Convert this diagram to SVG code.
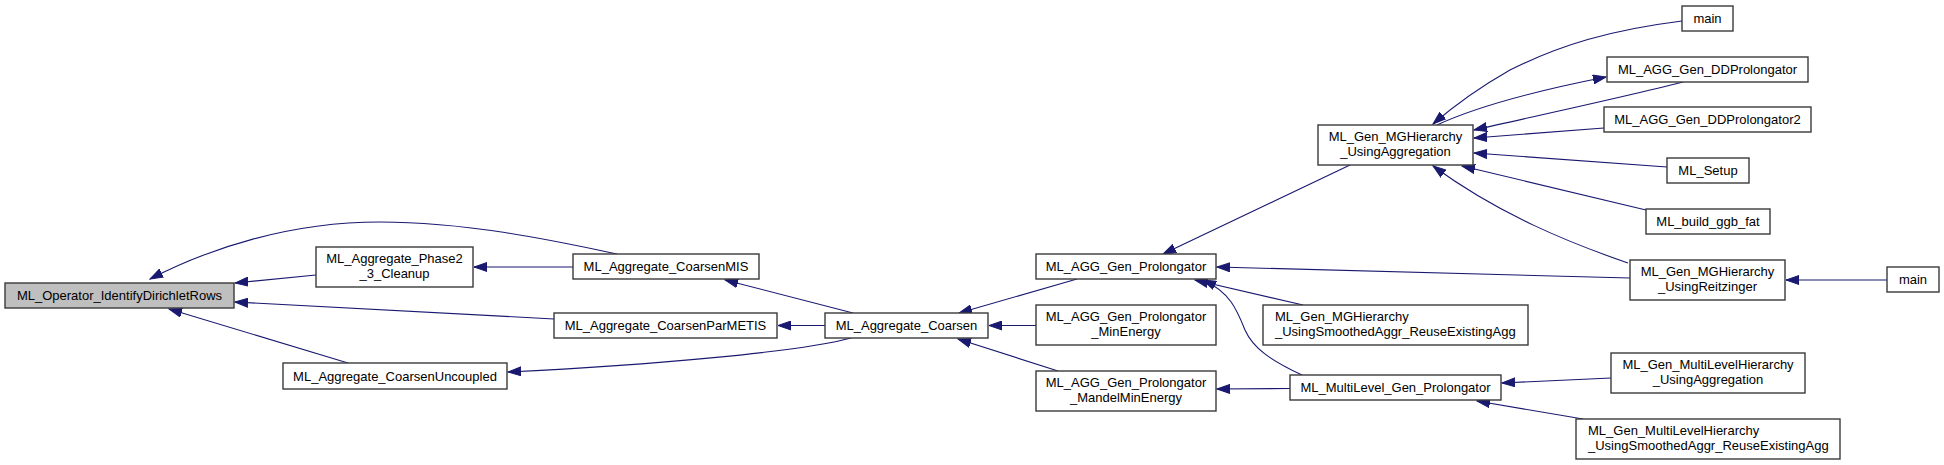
<svg xmlns="http://www.w3.org/2000/svg" width="1944" height="465" viewBox="0 0 1944 465">
<style>
.n rect{fill:#ffffff;stroke:#3a3a3a;stroke-width:1.4}
.n.root rect{fill:#bfbfbf}
text{font-family:"Liberation Sans",Helvetica,Arial,sans-serif;font-size:13px;fill:#000000}
.c{text-anchor:middle}
.l{text-anchor:start}
#edges path{fill:none;stroke:#191970;stroke-width:1.1;marker-end:url(#arr)}
</style>
<defs>
<marker id="arr" markerUnits="userSpaceOnUse" markerWidth="14" markerHeight="10" refX="13" refY="5" orient="auto" viewBox="0 0 14 10">
<path d="M0,0.5 L13,5 L0,9.5 z" fill="#191970" stroke="#191970" stroke-width="1"/>
</marker>
</defs>
<rect x="0" y="0" width="1944" height="465" fill="#ffffff"/>
<g id="edges">
<path d="M617,254 C560,242 470,222 380,222 C290,222 210,248 150,279"/>
<path d="M316,275 L235,283"/>
<path d="M554,319 L235,302"/>
<path d="M348,363 L169,309"/>
<path d="M573,267 L474,267"/>
<path d="M853,313 L725,280"/>
<path d="M825,325.5 L778,325.5"/>
<path d="M851,338 C800,352 650,365 508,372"/>
<path d="M1077,279 L959,313"/>
<path d="M1036,325.5 L989,325.5"/>
<path d="M1058,371 L958,339"/>
<path d="M1350,165 L1163,254"/>
<path d="M1630,278 L1217,267"/>
<path d="M1303,305 L1195,280"/>
<path d="M1302,375 C1270,360 1253,348 1245,330 C1237,310 1230,292 1203,280"/>
<path d="M1290,388.5 L1217,389"/>
<path d="M1611,378 L1502,383"/>
<path d="M1583,419 L1477,401"/>
<path d="M1682,21 C1610,30 1560,45 1510,70 C1480,87 1455,105 1433,124"/>
<path d="M1437,125 C1480,105 1540,90 1606,77"/>
<path d="M1683,82 C1620,98 1540,115 1474,130"/>
<path d="M1604,128 L1474,138"/>
<path d="M1667,167 L1474,153"/>
<path d="M1646,210 L1462,166"/>
<path d="M1628,263 C1570,243 1500,215 1433,166"/>
<path d="M1887,280 L1786,280"/>
</g>
<g id="n_operator" class="n root"><rect x="5" y="283" width="229" height="25"/><text class="c" x="119.5" y="300">ML_Operator_IdentifyDirichletRows</text></g>
<g id="n_phase2" class="n"><rect x="316" y="247" width="157" height="40"/><text class="c" x="394.5" y="262.5">ML_Aggregate_Phase2</text><text class="c" x="394.5" y="277.5">_3_Cleanup</text></g>
<g id="n_coarsenmis" class="n"><rect x="573" y="254" width="186" height="25"/><text class="c" x="666" y="271">ML_Aggregate_CoarsenMIS</text></g>
<g id="n_parmetis" class="n"><rect x="554" y="313" width="223" height="25"/><text class="c" x="665.5" y="330">ML_Aggregate_CoarsenParMETIS</text></g>
<g id="n_uncoupled" class="n"><rect x="283" y="363" width="224" height="26"/><text class="c" x="395" y="380.5">ML_Aggregate_CoarsenUncoupled</text></g>
<g id="n_coarsen" class="n"><rect x="825" y="313" width="163" height="25"/><text class="c" x="906.5" y="330">ML_Aggregate_Coarsen</text></g>
<g id="n_genprol" class="n"><rect x="1036" y="254" width="180" height="25"/><text class="c" x="1126" y="271">ML_AGG_Gen_Prolongator</text></g>
<g id="n_minenergy" class="n"><rect x="1036" y="305" width="180" height="40"/><text class="c" x="1126" y="320.5">ML_AGG_Gen_Prolongator</text><text class="c" x="1126" y="335.5">_MinEnergy</text></g>
<g id="n_mandel" class="n"><rect x="1036" y="371" width="180" height="40"/><text class="c" x="1126" y="386.5">ML_AGG_Gen_Prolongator</text><text class="c" x="1126" y="401.5">_MandelMinEnergy</text></g>
<g id="n_mgh_agg" class="n"><rect x="1318" y="125" width="155" height="40"/><text class="c" x="1395.5" y="140.5">ML_Gen_MGHierarchy</text><text class="c" x="1395.5" y="155.5">_UsingAggregation</text></g>
<g id="n_mgh_sa" class="n"><rect x="1263" y="305" width="265" height="40"/><text class="l" x="1275" y="320.5">ML_Gen_MGHierarchy</text><text class="l" x="1275" y="335.5">_UsingSmoothedAggr_ReuseExistingAgg</text></g>
<g id="n_mlgenprol" class="n"><rect x="1290" y="375" width="211" height="25"/><text class="c" x="1395.5" y="392">ML_MultiLevel_Gen_Prolongator</text></g>
<g id="n_main1" class="n"><rect x="1682" y="6" width="51" height="25"/><text class="c" x="1707.5" y="23">main</text></g>
<g id="n_ddprol" class="n"><rect x="1607" y="57" width="201" height="25"/><text class="c" x="1707.5" y="74">ML_AGG_Gen_DDProlongator</text></g>
<g id="n_ddprol2" class="n"><rect x="1604" y="107" width="207" height="25"/><text class="c" x="1707.5" y="124">ML_AGG_Gen_DDProlongator2</text></g>
<g id="n_setup" class="n"><rect x="1667" y="158" width="82" height="25"/><text class="c" x="1708" y="175">ML_Setup</text></g>
<g id="n_ggb" class="n"><rect x="1646" y="209" width="124" height="25"/><text class="c" x="1708" y="226">ML_build_ggb_fat</text></g>
<g id="n_reitz" class="n"><rect x="1630" y="260" width="155" height="40"/><text class="c" x="1707.5" y="275.5">ML_Gen_MGHierarchy</text><text class="c" x="1707.5" y="290.5">_UsingReitzinger</text></g>
<g id="n_main2" class="n"><rect x="1887" y="267" width="52" height="25"/><text class="c" x="1913" y="284">main</text></g>
<g id="n_mlh_agg" class="n"><rect x="1611" y="353" width="194" height="40"/><text class="c" x="1708" y="368.5">ML_Gen_MultiLevelHierarchy</text><text class="c" x="1708" y="383.5">_UsingAggregation</text></g>
<g id="n_mlh_sa" class="n"><rect x="1576" y="419" width="264" height="40"/><text class="l" x="1588" y="434.5">ML_Gen_MultiLevelHierarchy</text><text class="l" x="1588" y="449.5">_UsingSmoothedAggr_ReuseExistingAgg</text></g>
</svg>
